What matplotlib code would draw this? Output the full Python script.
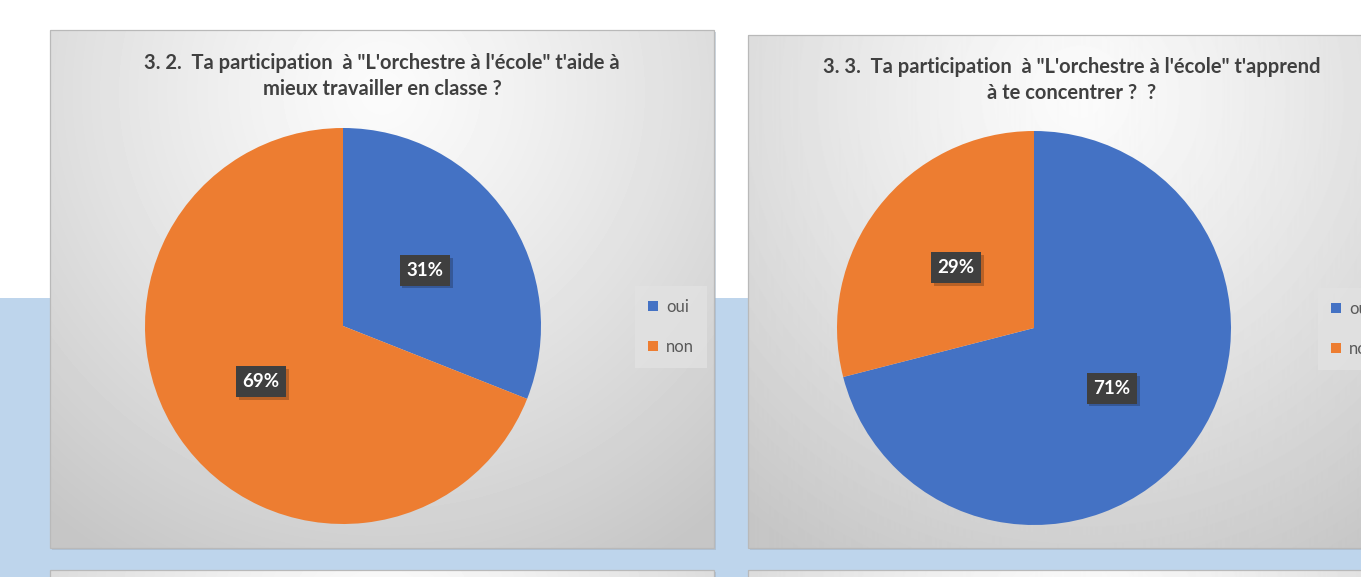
import numpy as np
from matplotlib import pyplot as plt
from matplotlib.patches import Rectangle
import matplotlib.patheffects as pe

categories = ['oui', 'non']
left_values = [31, 69]
right_values = [71, 29]
left_title = '3. 2.  Ta participation  à "L\'orchestre à l\'école" t\'aide à\nmieux travailler en classe ?'
right_title = '3. 3.  Ta participation  à "L\'orchestre à l\'école" t\'apprend\nà te concentrer ?  ?'
colors = ['#4472C4', '#ED7D31']

W, H = 1361, 577
plt.rcParams['font.family'] = ['Lato', 'DejaVu Sans']

fig = plt.figure(figsize=(W / 100, H / 100), dpi=100)
bg = fig.add_axes([0, 0, 1, 1])
bg.set_xlim(0, W)
bg.set_ylim(H, 0)
bg.axis('off')

# page background: white top, light blue band below
bg.add_patch(Rectangle((0, 0), W, 298, fc='white', ec='none'))
bg.add_patch(Rectangle((0, 298), W, H - 298, fc='#BED5EC', ec='none'))


def gradient(w, h, cy=0.12):
    yy, xx = np.mgrid[0:1:h * 1j, 0:1:w * 1j]
    d = np.sqrt(((xx - 0.5) / 0.8) ** 2 + ((yy - cy) / 1.05) ** 2)
    d = np.clip(d, 0, 1)
    return 0.985 - (0.985 - 0.775) * d ** 1.2


def panel(x0, y0, x1, y1):
    bg.add_patch(Rectangle((x0 + 2, y0 + 2), x1 - x0, y1 - y0, fc='#9fb0c2', ec='none', alpha=0.5))
    g = gradient(int(x1 - x0), int(y1 - y0))
    bg.imshow(g, cmap='gray', vmin=0, vmax=1, extent=(x0, x1, y1, y0), aspect='auto', zorder=2)
    bg.add_patch(Rectangle((x0, y0), x1 - x0, y1 - y0, fc='none', ec='#b9b9b9', lw=0.9, zorder=3))


panel(50, 30, 714, 548)
panel(748, 35, 1412, 548)
panel(50, 570, 714, 1088)
panel(748, 570, 1412, 1088)
bg.set_xlim(0, W)
bg.set_ylim(H, 0)

bg.text(382, 76, left_title, ha='center', va='center', fontsize=14.5, fontweight='bold',
        color='#404040', linespacing=1.35, zorder=5)
bg.text(1072, 80, right_title, ha='center', va='center', fontsize=14.5, fontweight='bold',
        color='#404040', linespacing=1.35, zorder=5)


def pie_chart(cx, cy, r, values, legend_x, legend_y):
    ax = fig.add_axes([(cx - r) / W, 1 - (cy + r) / H, 2 * r / W, 2 * r / H])
    ax.set_facecolor('none')
    wedges, _, autotexts = ax.pie(values, colors=colors, startangle=90, counterclock=False,
                                  autopct='%d%%', pctdistance=0.5, radius=1,
                                  wedgeprops=dict(linewidth=0))
    ax.set_xlim(-1, 1)
    ax.set_ylim(-1, 1)
    ax.axis('off')
    for t in autotexts:
        t.set_color('white')
        t.set_fontweight('bold')
        t.set_fontsize(13.5)
        t.set_bbox(dict(boxstyle='square,pad=0.36', fc='#3f3f3f', ec='none'))
        t.get_bbox_patch().set_path_effects([
            pe.SimplePatchShadow(offset=(2, -2), shadow_rgbFace='black', alpha=0.22),
            pe.Normal()])
    fig.legend(wedges, categories, loc='center left',
               bbox_to_anchor=(legend_x / W, 1 - legend_y / H), borderaxespad=0,
               frameon=True, fancybox=False, facecolor='#e2e2e2', edgecolor='none',
               framealpha=0.8, fontsize=12, labelcolor='#595959',
               handlelength=0.55, handleheight=0.55, handletextpad=0.5,
               labelspacing=1.45, borderpad=0.8)


pie_chart(343, 326, 198, left_values, 635, 327)
pie_chart(1034, 328, 197, right_values, 1318, 329)

fig.savefig('out.png', dpi=100)
